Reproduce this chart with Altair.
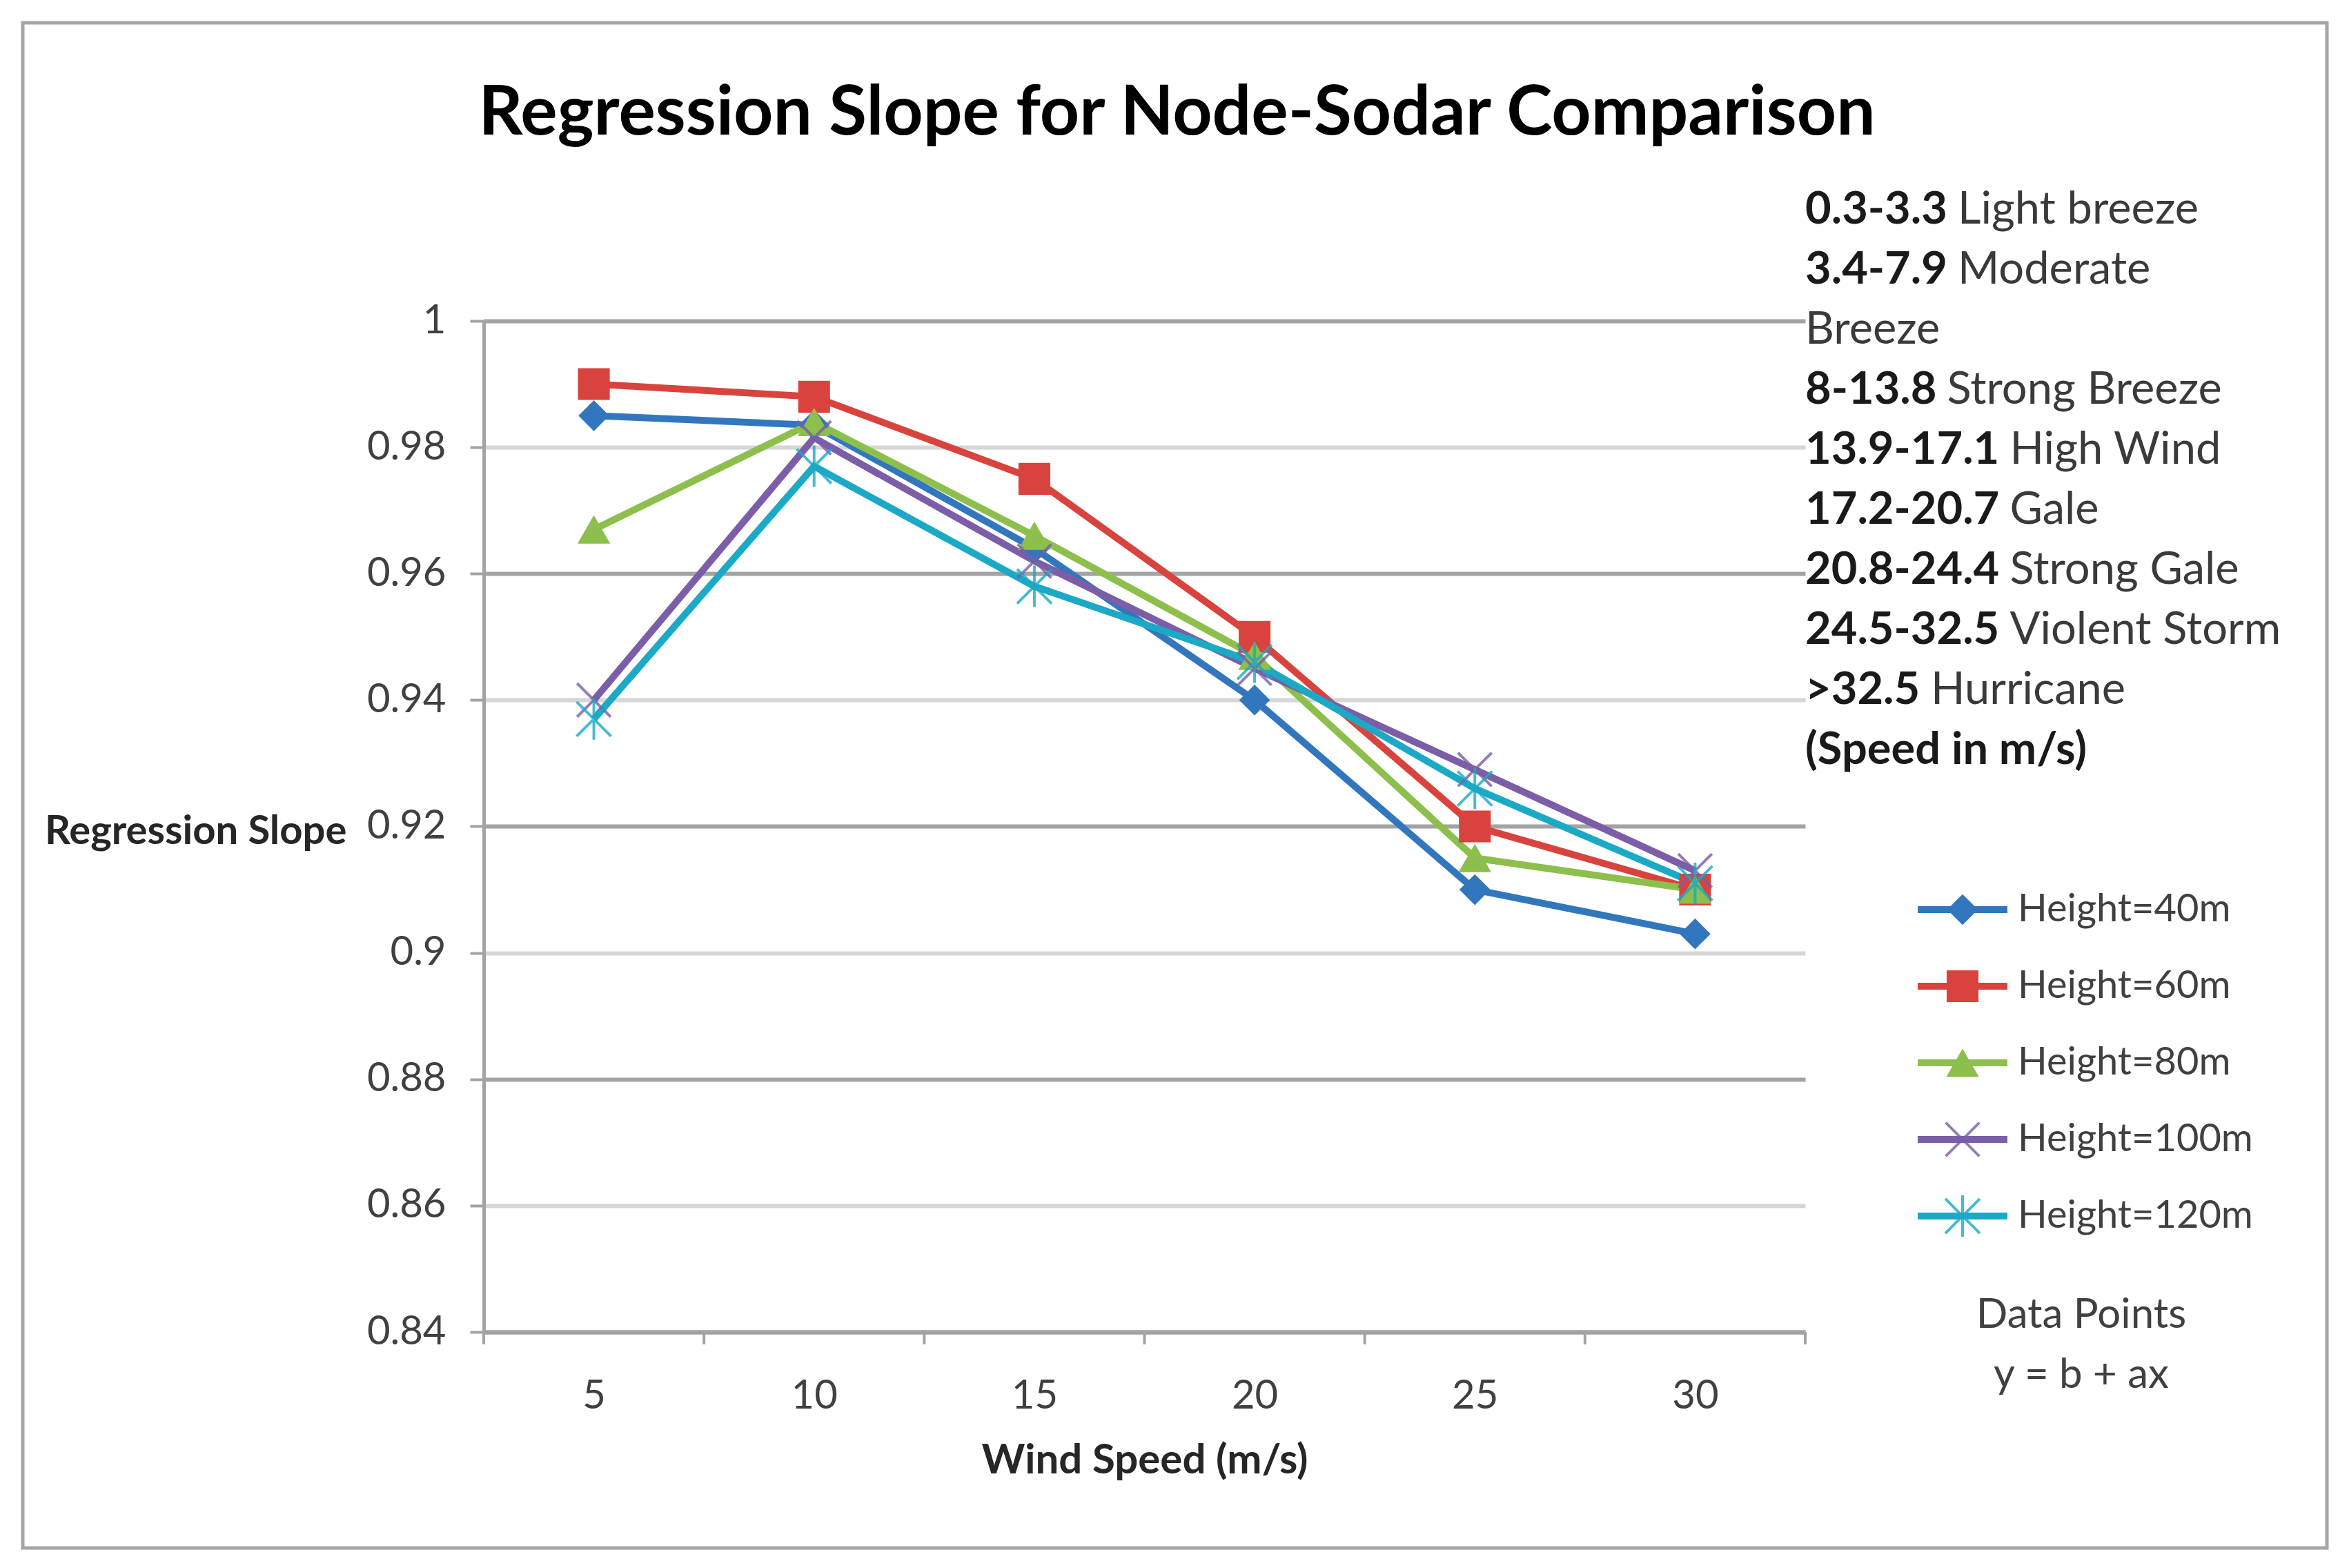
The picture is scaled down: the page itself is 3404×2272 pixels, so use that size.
import altair as alt
import pandas as pd

# ---------------- data ----------------
cats = [5, 10, 15, 20, 25, 30]
series_names = ["Height=40m", "Height=60m", "Height=80m", "Height=100m", "Height=120m"]
h40 = [0.985, 0.9835, 0.964, 0.940, 0.910, 0.903]
h60 = [0.990, 0.988, 0.975, 0.950, 0.920, 0.910]
h80 = [0.967, 0.984, 0.966, 0.947, 0.915, 0.910]
h100 = [0.940, 0.9815, 0.962, 0.945, 0.929, 0.913]
h120 = [0.937, 0.977, 0.958, 0.946, 0.926, 0.911]
y_ticks = [0.84, 0.86, 0.88, 0.90, 0.92, 0.94, 0.96, 0.98, 1.0]

title_text = "Regression Slope for Node-Sodar Comparison"
x_title = "Wind Speed (m/s)"
y_title = "Regression Slope"
bold_parts = ["0.3-3.3", "3.4-7.9", "", "8-13.8", "13.9-17.1", "17.2-20.7",
              "20.8-24.4", "24.5-32.5", ">32.5", "(Speed in m/s)"]
regular_parts = ["Light breeze", "Moderate", "Breeze", "Strong Breeze", "High Wind",
                 "Gale", "Strong Gale", "Violent Storm", "Hurricane", ""]
note_lines = ["Data Points", "y = b + ax"]

# ---------------- styles ----------------
colors = ["#3277BD", "#D9433E", "#8DBF4C", "#7B5EA7", "#1BA9C6"]
X_PATH = "M-1,-1L1,1M-1,1L1,-1"
AST_PATH = "M-1,-1L1,1M-1,1L1,-1M0,-1.2L0,1.2"
shapes = ["diamond", "square", "triangle-up", X_PATH, AST_PATH]
sizes = [2000, 2500, 2200, 1500, 1500]
LINE_W = 10
FONT = "Lato"
W, H = 1915, 1465
GRID_DARK = "#a3a3a3"
GRID_LIGHT = "#d6d6d6"

# ---------------- tables ----------------
rows = []
for name, vals in zip(series_names, [h40, h60, h80, h100, h120]):
    for c, v in zip(cats, vals):
        rows.append({"series": name, "speed": c, "slope": v})
df = pd.DataFrame(rows)

step = cats[1] - cats[0]
bounds = pd.DataFrame({"speed": [c - step / 2 for c in cats] + [cats[-1] + step / 2]})


def bold_width(s, fs):
    w = 0.0
    for ch in s:
        if ch.isdigit() or ch == ">":
            w += 0.58
        elif ch == ".":
            w += 0.24
        elif ch == "-":
            w += 0.36
        else:
            w += 0.5
    return w * fs


NOTE_FS = 65
notes = pd.DataFrame({
    "bold": bold_parts,
    "regular": regular_parts,
    "i": list(range(len(bold_parts))),
})
notes["py"] = -161 + notes["i"] * 87
notes["rx"] = [W + (bold_width(b, NOTE_FS) + 0.24 * NOTE_FS if b else 0) for b in bold_parts]

leg = pd.DataFrame({"series": series_names, "i": list(range(len(series_names)))})
leg["ly"] = 853 + leg["i"] * 111

dp = pd.DataFrame({"t": note_lines, "i": [0, 1]})
dp["py"] = 1441 + dp["i"] * 87

one = pd.DataFrame({"a": [0]})

# ---------------- scales / axes ----------------
xscale = alt.Scale(domain=[cats[0] - step / 2, cats[-1] + step / 2], nice=False, zero=False)
yscale = alt.Scale(domain=[y_ticks[0], y_ticks[-1]], nice=False, zero=False)
cscale = alt.Scale(domain=series_names, range=colors)
sscale = alt.Scale(domain=series_names, range=shapes)
zscale = alt.Scale(domain=series_names, range=sizes)

x_axis = alt.Axis(
    values=cats, ticks=False, tickSize=0, grid=False,
    labelFont=FONT, labelFontSize=58, labelColor="#404040",
    labelBaseline="alphabetic", labelPadding=110,
    domainColor=GRID_DARK, domainWidth=6,
    title=x_title, titleFont=FONT, titleFontSize=60, titleFontWeight="bold",
    titleColor="#262626", titleBaseline="alphabetic", titleY=204,
)
y_axis = alt.Axis(
    values=y_ticks, format="~g", grid=True,
    gridColor={"condition": {"test": "round(datum.value * 100) % 4 != 0", "value": GRID_LIGHT},
               "value": GRID_DARK},
    gridWidth=6,
    ticks=True, tickSize=20, tickColor=GRID_DARK, tickWidth=4,
    labelFont=FONT, labelFontSize=58, labelColor="#404040", labelPadding=35,
    domainColor=GRID_DARK, domainWidth=5,
    title=y_title, titleAngle=0, titleAlign="right", titleBaseline="middle",
    titleX=-199, titleY=740, titleFont=FONT, titleFontSize=58, titleFontWeight="bold",
    titleColor="#262626",
)

X = alt.X("speed:Q", scale=xscale, axis=x_axis, title=x_title)
Y = alt.Y("slope:Q", scale=yscale, axis=y_axis, title=y_title)

# ---------------- layers ----------------
lines = alt.Chart(df).mark_line(strokeWidth=LINE_W).encode(
    x=X, y=Y,
    color=alt.Color("series:N", scale=cscale, legend=None),
    detail="series:N",
)

border = alt.Chart(one).mark_rect(filled=False, stroke="#a6a6a6", strokeWidth=5).encode(
    x=alt.value(-668), x2=alt.value(2671), y=alt.value(-432), y2=alt.value(1778)
)

xticks = alt.Chart(bounds).mark_rule(color=GRID_DARK, strokeWidth=4).encode(
    x=X, y=alt.value(H), y2=alt.value(H + 18),
)

filled_pts = alt.Chart(df).transform_filter(
    alt.FieldOneOfPredicate(field="series", oneOf=series_names[:3])
).mark_point(filled=True, opacity=1).encode(
    x=X, y=Y,
    color=alt.Color("series:N", scale=cscale, legend=None),
    shape=alt.Shape("series:N", scale=sscale, legend=None),
    size=alt.Size("series:N", scale=zscale, legend=None),
)

open_pts = alt.Chart(df).transform_filter(
    alt.FieldOneOfPredicate(field="series", oneOf=series_names[3:])
).mark_point(filled=False, opacity=0.8, strokeWidth=4).encode(
    x=X, y=Y,
    color=alt.Color("series:N", scale=cscale, legend=None),
    shape=alt.Shape("series:N", scale=sscale, legend=None),
    size=alt.Size("series:N", scale=zscale, legend=None),
)

# manual legend
leg_lines = alt.Chart(leg).mark_rule(strokeWidth=LINE_W).encode(
    x=alt.value(W + 163), x2=alt.value(W + 293),
    y=alt.Y("ly:Q", scale=None, axis=None),
    color=alt.Color("series:N", scale=cscale, legend=None),
)
leg_filled = alt.Chart(leg).transform_filter(
    alt.FieldOneOfPredicate(field="series", oneOf=series_names[:3])
).mark_point(filled=True, opacity=1).encode(
    x=alt.value(W + 228),
    y=alt.Y("ly:Q", scale=None, axis=None),
    color=alt.Color("series:N", scale=cscale, legend=None),
    shape=alt.Shape("series:N", scale=sscale, legend=None),
    size=alt.Size("series:N", scale=zscale, legend=None),
)
leg_open = alt.Chart(leg).transform_filter(
    alt.FieldOneOfPredicate(field="series", oneOf=series_names[3:])
).mark_point(filled=False, opacity=0.8, strokeWidth=4).encode(
    x=alt.value(W + 228),
    y=alt.Y("ly:Q", scale=None, axis=None),
    color=alt.Color("series:N", scale=cscale, legend=None),
    shape=alt.Shape("series:N", scale=sscale, legend=None),
    size=alt.Size("series:N", scale=zscale, legend=None),
)
leg_text = alt.Chart(leg).mark_text(
    align="left", baseline="middle", font=FONT, fontSize=56, color="#404040"
).encode(
    x=alt.value(W + 308),
    y=alt.Y("ly:Q", scale=None, axis=None),
    text="series:N",
)

note_bold = alt.Chart(notes).mark_text(
    align="left", baseline="middle", font=FONT, fontSize=NOTE_FS, fontWeight="bold",
    color="#1a1a1a"
).encode(
    x=alt.value(W),
    y=alt.Y("py:Q", scale=None, axis=None),
    text="bold:N",
)
note_reg = alt.Chart(notes).mark_text(
    align="left", baseline="middle", font=FONT, fontSize=NOTE_FS, color="#3a3a3a"
).encode(
    x=alt.X("rx:Q", scale=None, axis=None),
    y=alt.Y("py:Q", scale=None, axis=None),
    text="regular:N",
)

dp_text = alt.Chart(dp).mark_text(
    align="center", baseline="middle", font=FONT, fontSize=60, color="#404040"
).encode(
    x=alt.value(W + 400),
    y=alt.Y("py:Q", scale=None, axis=None),
    text="t:N",
)

title_mark = alt.Chart(one).mark_text(
    align="center", baseline="alphabetic", font=FONT, fontSize=100, fontWeight="bold",
    color="#000000", text=title_text
).encode(
    x=alt.value(W / 2 + 47), y=alt.value(-270),
)

chart = alt.layer(
    lines, border, xticks, filled_pts, open_pts,
    leg_lines, leg_filled, leg_open, leg_text,
    note_bold, note_reg, dp_text, title_mark,
).properties(
    width=W, height=H,
    autosize=alt.AutoSizeParams(type="none"),
    padding={"left": 693, "top": 457, "right": 770, "bottom": 320},
    background="white",
).configure_view(stroke=None)

chart.save("out.html", embed_options={"renderer": "svg", "actions": False})
